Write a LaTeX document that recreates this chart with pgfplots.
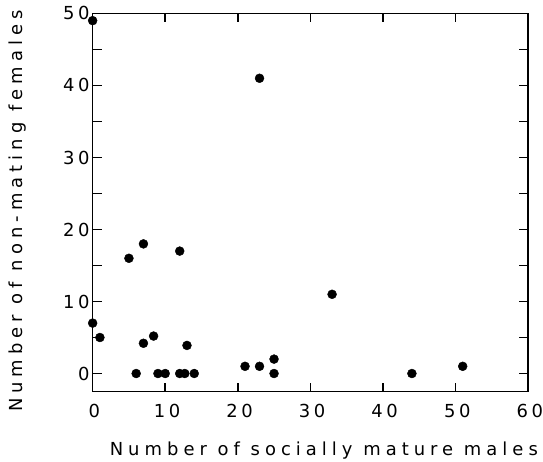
\documentclass[border=0pt]{standalone}
\usepackage{fontspec}
\setmainfont{DejaVu Sans}
\newfontfamily\lblfont[LetterSpace=28]{DejaVu Sans}
\newfontfamily\tickfont[LetterSpace=20]{DejaVu Sans}
\usepackage{pgfplots}
\pgfplotsset{compat=1.18}
\begin{document}
\begin{tikzpicture}
\begin{axis}[name=ax, scale only axis, width=437pt, height=379.5pt,
  xmin=0, xmax=60, ymin=-2.5, ymax=50,
  xtick={0,10,...,60}, ytick={0,10,...,50}, minor ytick={5,15,...,45},
  tick align=inside, major tick length=9pt, minor tick length=9pt,
  axis line style={line width=1.6pt},
  tick style={line width=1.5pt, black},
  /pgf/number format/assume math mode=true,
  tick label style={font=\fontsize{18}{18}\selectfont\tickfont, inner sep=0pt},
  xticklabel shift=13pt, yticklabel shift=3pt,
  xticklabel style={xshift=1.8pt},
  xlabel={Number of socially mature males},
  ylabel={Number of non-mating females},
  label style={font=\fontsize{18}{18}\selectfont\lblfont, inner sep=0pt},
  xlabel style={at={(rel axis cs:0.531,-0.1686)}, anchor=base},
  ylabel style={at={(rel axis cs:-0.151,0.477)}, anchor=south},
  clip=false,
]
\addplot[only marks, mark=*, mark size=4.5pt, black] coordinates {
(0,49) (0,7) (1,5) (5,16) (6,0) (7,18) (7,4.2) (8.4,5.2) (9,0) (10,0)
(12,0) (12.7,0) (12,17) (13,3.9) (14,0) (21,1) (23,1) (23,41) (25,2)
(25,0) (33,11) (44,0) (51,1)
};
\end{axis}
\path (ax.south west) ++(-93pt,-70pt) coordinate (a);
\path (ax.north east) ++(13pt,13.5pt) coordinate (b);
\path (a) rectangle (b);
\end{tikzpicture}
\end{document}
